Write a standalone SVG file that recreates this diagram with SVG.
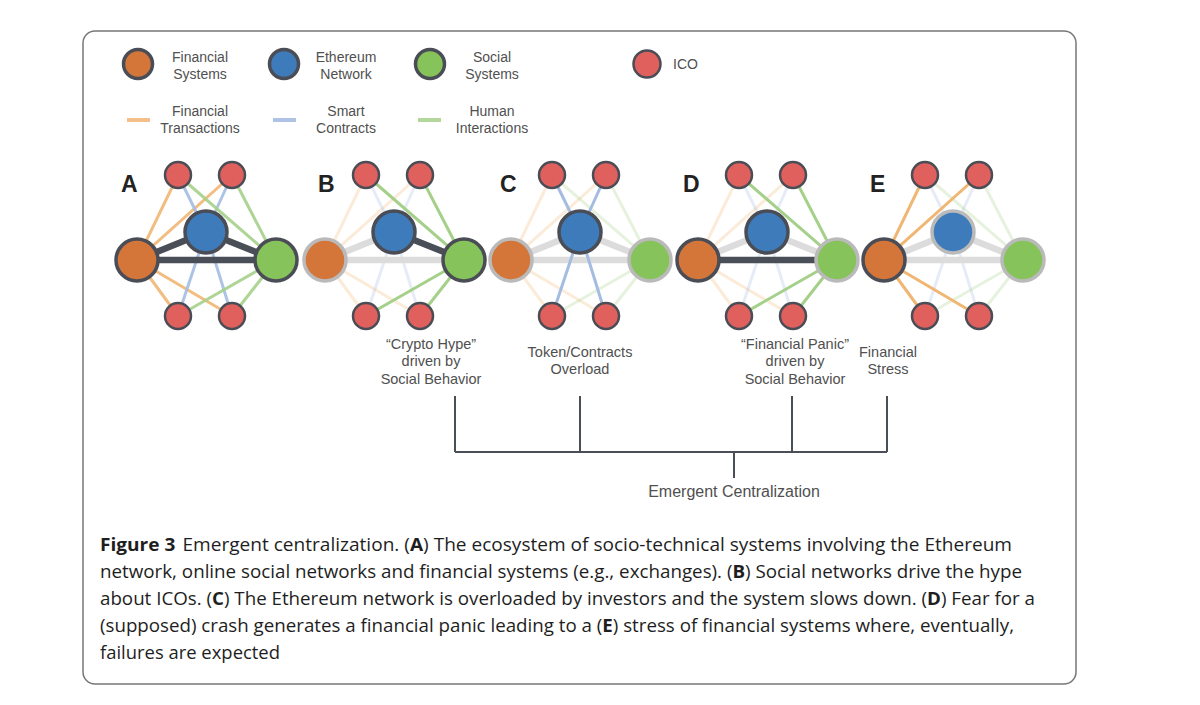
<svg xmlns="http://www.w3.org/2000/svg" width="1200" height="705" viewBox="0 0 1200 705">
<style>
.lbl{font-family:"Liberation Sans",Arial,sans-serif;font-size:14px;fill:#505050;text-anchor:middle}
.plbl{font-family:"Liberation Sans",Arial,sans-serif;font-size:14.5px;fill:#505050;text-anchor:middle}
.let{font-family:"Liberation Sans",Arial,sans-serif;font-size:23px;font-weight:bold;fill:#222}
.cap{font-family:"Open Sans","Noto Sans",sans-serif;font-size:18.5px;fill:#1e1e1e}
.b{font-weight:bold}
.fin{fill:#d4763a}
.eth{fill:#3d7bbb}
.soc{fill:#86c35a}
.ico{fill:#e0605e;stroke:#4a4d55;stroke-width:2.5}
.on{stroke:#4a4d55;stroke-width:3.5}
.off{stroke:#bababa;stroke-width:3.5}
.e{fill:none;stroke-width:3;stroke-linecap:round}
.fx{stroke:#f0b673}
.sc{stroke:#a4bce2}
.hi{stroke:#a5d08a}
.dim{opacity:.28}
.mid{opacity:.9}
.tk{fill:none;stroke-width:6.5;stroke-linecap:round}
.tkon{stroke:#4a4e57}
.tkoff{stroke:#dcdcdc}
.br{fill:none;stroke:#4a4e57;stroke-width:2}
</style>
<rect x="0" y="0" width="1200" height="705" fill="#fff"/>
<rect x="83" y="31" width="993" height="653" rx="12" fill="none" stroke="#777" stroke-width="1.5"/>

<!-- legend -->
<g id="legend">
  <circle class="fin on" cx="138" cy="64" r="14.5"/>
  <text class="lbl" x="200" y="62">Financial</text><text class="lbl" x="200" y="79">Systems</text>
  <circle class="eth on" cx="284" cy="64" r="14.5"/>
  <text class="lbl" x="346" y="62">Ethereum</text><text class="lbl" x="346" y="79">Network</text>
  <circle class="soc on" cx="430" cy="64" r="14.5"/>
  <text class="lbl" x="492" y="62">Social</text><text class="lbl" x="492" y="79">Systems</text>
  <circle class="ico" cx="647" cy="64" r="13.5" stroke-width="3"/>
  <text class="lbl" x="673" y="69" text-anchor="start" style="text-anchor:start">ICO</text>
  <line x1="127" y1="120" x2="150" y2="120" stroke="#f3c08c" stroke-width="4"/>
  <text class="lbl" x="200" y="116">Financial</text><text class="lbl" x="200" y="133">Transactions</text>
  <line x1="273" y1="120" x2="296" y2="120" stroke="#aec2e6" stroke-width="4"/>
  <text class="lbl" x="346" y="116">Smart</text><text class="lbl" x="346" y="133">Contracts</text>
  <line x1="418" y1="120" x2="441" y2="120" stroke="#b3d79c" stroke-width="4"/>
  <text class="lbl" x="492" y="116">Human</text><text class="lbl" x="492" y="133">Interactions</text>
</g>

<!-- panel letters -->
<g id="letters">
  <text class="let" x="121" y="192">A</text>
  <text class="let" x="318" y="192">B</text>
  <text class="let" x="500" y="192">C</text>
  <text class="let" x="683" y="192">D</text>
  <text class="let" x="870" y="192">E</text>
</g>

<!-- connectors -->
<g id="connectors">
  <g id="conn-A">
    <path class="e fx mid" d="M137 260L178 175M137 260L232 175M137 260L178 316M137 260L232 316"/>
    <path class="e sc mid" d="M206 232L178 175M206 232L232 175M206 232L178 316M206 232L232 316"/>
    <path class="e hi mid" d="M276 260L178 175M276 260L232 175M276 260L178 316M276 260L232 316"/>
    <path class="tk tkon" d="M137 260L206 232M137 260L276 260M206 232L276 260"/>
  </g>
  <g id="conn-B" transform="translate(188 0)">
    <path class="e fx dim" d="M137 260L178 175M137 260L232 175M137 260L178 316M137 260L232 316"/>
    <path class="e sc dim" d="M206 232L178 175M206 232L232 175M206 232L178 316M206 232L232 316"/>
    <path class="tk tkoff" d="M137 260L206 232M137 260L276 260"/>
    <path class="e hi" d="M276 260L178 175M276 260L232 175M276 260L178 316M276 260L232 316"/>
    <path class="tk tkon" d="M206 232L276 260"/>
  </g>
  <g id="conn-C" transform="translate(374 0)">
    <path class="e fx dim" d="M137 260L178 175M137 260L232 175M137 260L178 316M137 260L232 316"/>
    <path class="e hi dim" d="M276 260L178 175M276 260L232 175M276 260L178 316M276 260L232 316"/>
    <path class="tk tkoff" d="M137 260L206 232M137 260L276 260M206 232L276 260"/>
    <path class="e sc" d="M206 232L178 175M206 232L232 175M206 232L178 316M206 232L232 316"/>
  </g>
  <g id="conn-D" transform="translate(561 0)">
    <path class="e fx dim" d="M137 260L178 175M137 260L232 175M137 260L178 316M137 260L232 316"/>
    <path class="e sc dim" d="M206 232L178 175M206 232L232 175M206 232L178 316M206 232L232 316"/>
    <path class="tk tkoff" d="M137 260L206 232M206 232L276 260"/>
    <path class="e hi" d="M276 260L178 175M276 260L232 175M276 260L178 316M276 260L232 316"/>
    <path class="tk tkon" d="M137 260L276 260"/>
  </g>
  <g id="conn-E" transform="translate(747 0)">
    <path class="e sc dim" d="M206 232L178 175M206 232L232 175M206 232L178 316M206 232L232 316"/>
    <path class="e hi dim" d="M276 260L178 175M276 260L232 175M276 260L178 316M276 260L232 316"/>
    <path class="tk tkoff" d="M137 260L206 232M137 260L276 260M206 232L276 260"/>
    <path class="e fx" d="M137 260L178 175M137 260L232 175M137 260L178 316M137 260L232 316"/>
  </g>
  <g id="bracket">
    <path class="br" d="M455 396V452M580 396V452M792 396V452M887 396V452M455 452H887M734 452V478"/>
  </g>
</g>

<!-- nodes panel A -->
<g id="A-fin"><circle class="fin on" cx="137" cy="260" r="21"/></g>
<g id="A-eth"><circle class="eth on" cx="206" cy="232" r="21"/></g>
<g id="A-soc"><circle class="soc on" cx="276" cy="260" r="21"/></g>
<g id="A-ico1"><circle class="ico" cx="178" cy="175" r="13"/></g>
<g id="A-ico2"><circle class="ico" cx="232" cy="175" r="13"/></g>
<g id="A-ico3"><circle class="ico" cx="178" cy="316" r="13"/></g>
<g id="A-ico4"><circle class="ico" cx="232" cy="316" r="13"/></g>
<!-- panel B -->
<g id="B-fin"><circle class="fin off" cx="325" cy="260" r="21"/></g>
<g id="B-eth"><circle class="eth on" cx="394" cy="232" r="21"/></g>
<g id="B-soc"><circle class="soc on" cx="464" cy="260" r="21"/></g>
<g id="B-ico1"><circle class="ico" cx="366" cy="175" r="13"/></g>
<g id="B-ico2"><circle class="ico" cx="420" cy="175" r="13"/></g>
<g id="B-ico3"><circle class="ico" cx="366" cy="316" r="13"/></g>
<g id="B-ico4"><circle class="ico" cx="420" cy="316" r="13"/></g>
<!-- panel C -->
<g id="C-fin"><circle class="fin off" cx="511" cy="260" r="21"/></g>
<g id="C-eth"><circle class="eth on" cx="580" cy="232" r="21"/></g>
<g id="C-soc"><circle class="soc off" cx="650" cy="260" r="21"/></g>
<g id="C-ico1"><circle class="ico" cx="552" cy="175" r="13"/></g>
<g id="C-ico2"><circle class="ico" cx="606" cy="175" r="13"/></g>
<g id="C-ico3"><circle class="ico" cx="552" cy="316" r="13"/></g>
<g id="C-ico4"><circle class="ico" cx="606" cy="316" r="13"/></g>
<!-- panel D -->
<g id="D-fin"><circle class="fin on" cx="698" cy="260" r="21"/></g>
<g id="D-eth"><circle class="eth on" cx="767" cy="232" r="21"/></g>
<g id="D-soc"><circle class="soc off" cx="837" cy="260" r="21"/></g>
<g id="D-ico1"><circle class="ico" cx="739" cy="175" r="13"/></g>
<g id="D-ico2"><circle class="ico" cx="793" cy="175" r="13"/></g>
<g id="D-ico3"><circle class="ico" cx="739" cy="316" r="13"/></g>
<g id="D-ico4"><circle class="ico" cx="793" cy="316" r="13"/></g>
<!-- panel E -->
<g id="E-fin"><circle class="fin on" cx="884" cy="260" r="21"/></g>
<g id="E-eth"><circle class="eth off" cx="953" cy="232" r="21"/></g>
<g id="E-soc"><circle class="soc off" cx="1023" cy="260" r="21"/></g>
<g id="E-ico1"><circle class="ico" cx="925" cy="175" r="13"/></g>
<g id="E-ico2"><circle class="ico" cx="979" cy="175" r="13"/></g>
<g id="E-ico3"><circle class="ico" cx="925" cy="316" r="13"/></g>
<g id="E-ico4"><circle class="ico" cx="979" cy="316" r="13"/></g>

<!-- effect labels -->
<g id="lbl-hype">
  <text class="plbl" x="431" y="349">“Crypto Hype”</text>
  <text class="plbl" x="431" y="366">driven by</text>
  <text class="plbl" x="431" y="384">Social Behavior</text>
</g>
<g id="lbl-overload">
  <text class="plbl" x="580" y="357">Token/Contracts</text>
  <text class="plbl" x="580" y="374">Overload</text>
</g>
<g id="lbl-panic">
  <text class="plbl" x="795" y="349">“Financial Panic”</text>
  <text class="plbl" x="795" y="366">driven by</text>
  <text class="plbl" x="795" y="384">Social Behavior</text>
</g>
<g id="lbl-stress">
  <text class="plbl" x="888" y="357">Financial</text>
  <text class="plbl" x="888" y="374">Stress</text>
</g>
<g id="lbl-central">
  <text class="plbl" x="734" y="497" style="font-size:16px">Emergent Centralization</text>
</g>

<!-- caption -->
<g id="caption">
  <text class="cap" x="100" y="551" textLength="912" lengthAdjust="spacingAndGlyphs"><tspan class="b">Figure 3</tspan><tspan dx="7">Emergent centralization. (</tspan><tspan class="b">A</tspan>) The ecosystem of socio-technical systems involving the Ethereum</text>
  <text class="cap" x="100" y="578" textLength="922" lengthAdjust="spacingAndGlyphs">network, online social networks and financial systems (e.g., exchanges). (<tspan class="b">B</tspan>) Social networks drive the hype</text>
  <text class="cap" x="100" y="605" textLength="935" lengthAdjust="spacingAndGlyphs">about ICOs. (<tspan class="b">C</tspan>) The Ethereum network is overloaded by investors and the system slows down. (<tspan class="b">D</tspan>) Fear for a</text>
  <text class="cap" x="100" y="632" textLength="914" lengthAdjust="spacingAndGlyphs">(supposed) crash generates a financial panic leading to a (<tspan class="b">E</tspan>) stress of financial systems where, eventually,</text>
  <text class="cap" x="100" y="659" textLength="180" lengthAdjust="spacingAndGlyphs">failures are expected</text>
</g>
</svg>
